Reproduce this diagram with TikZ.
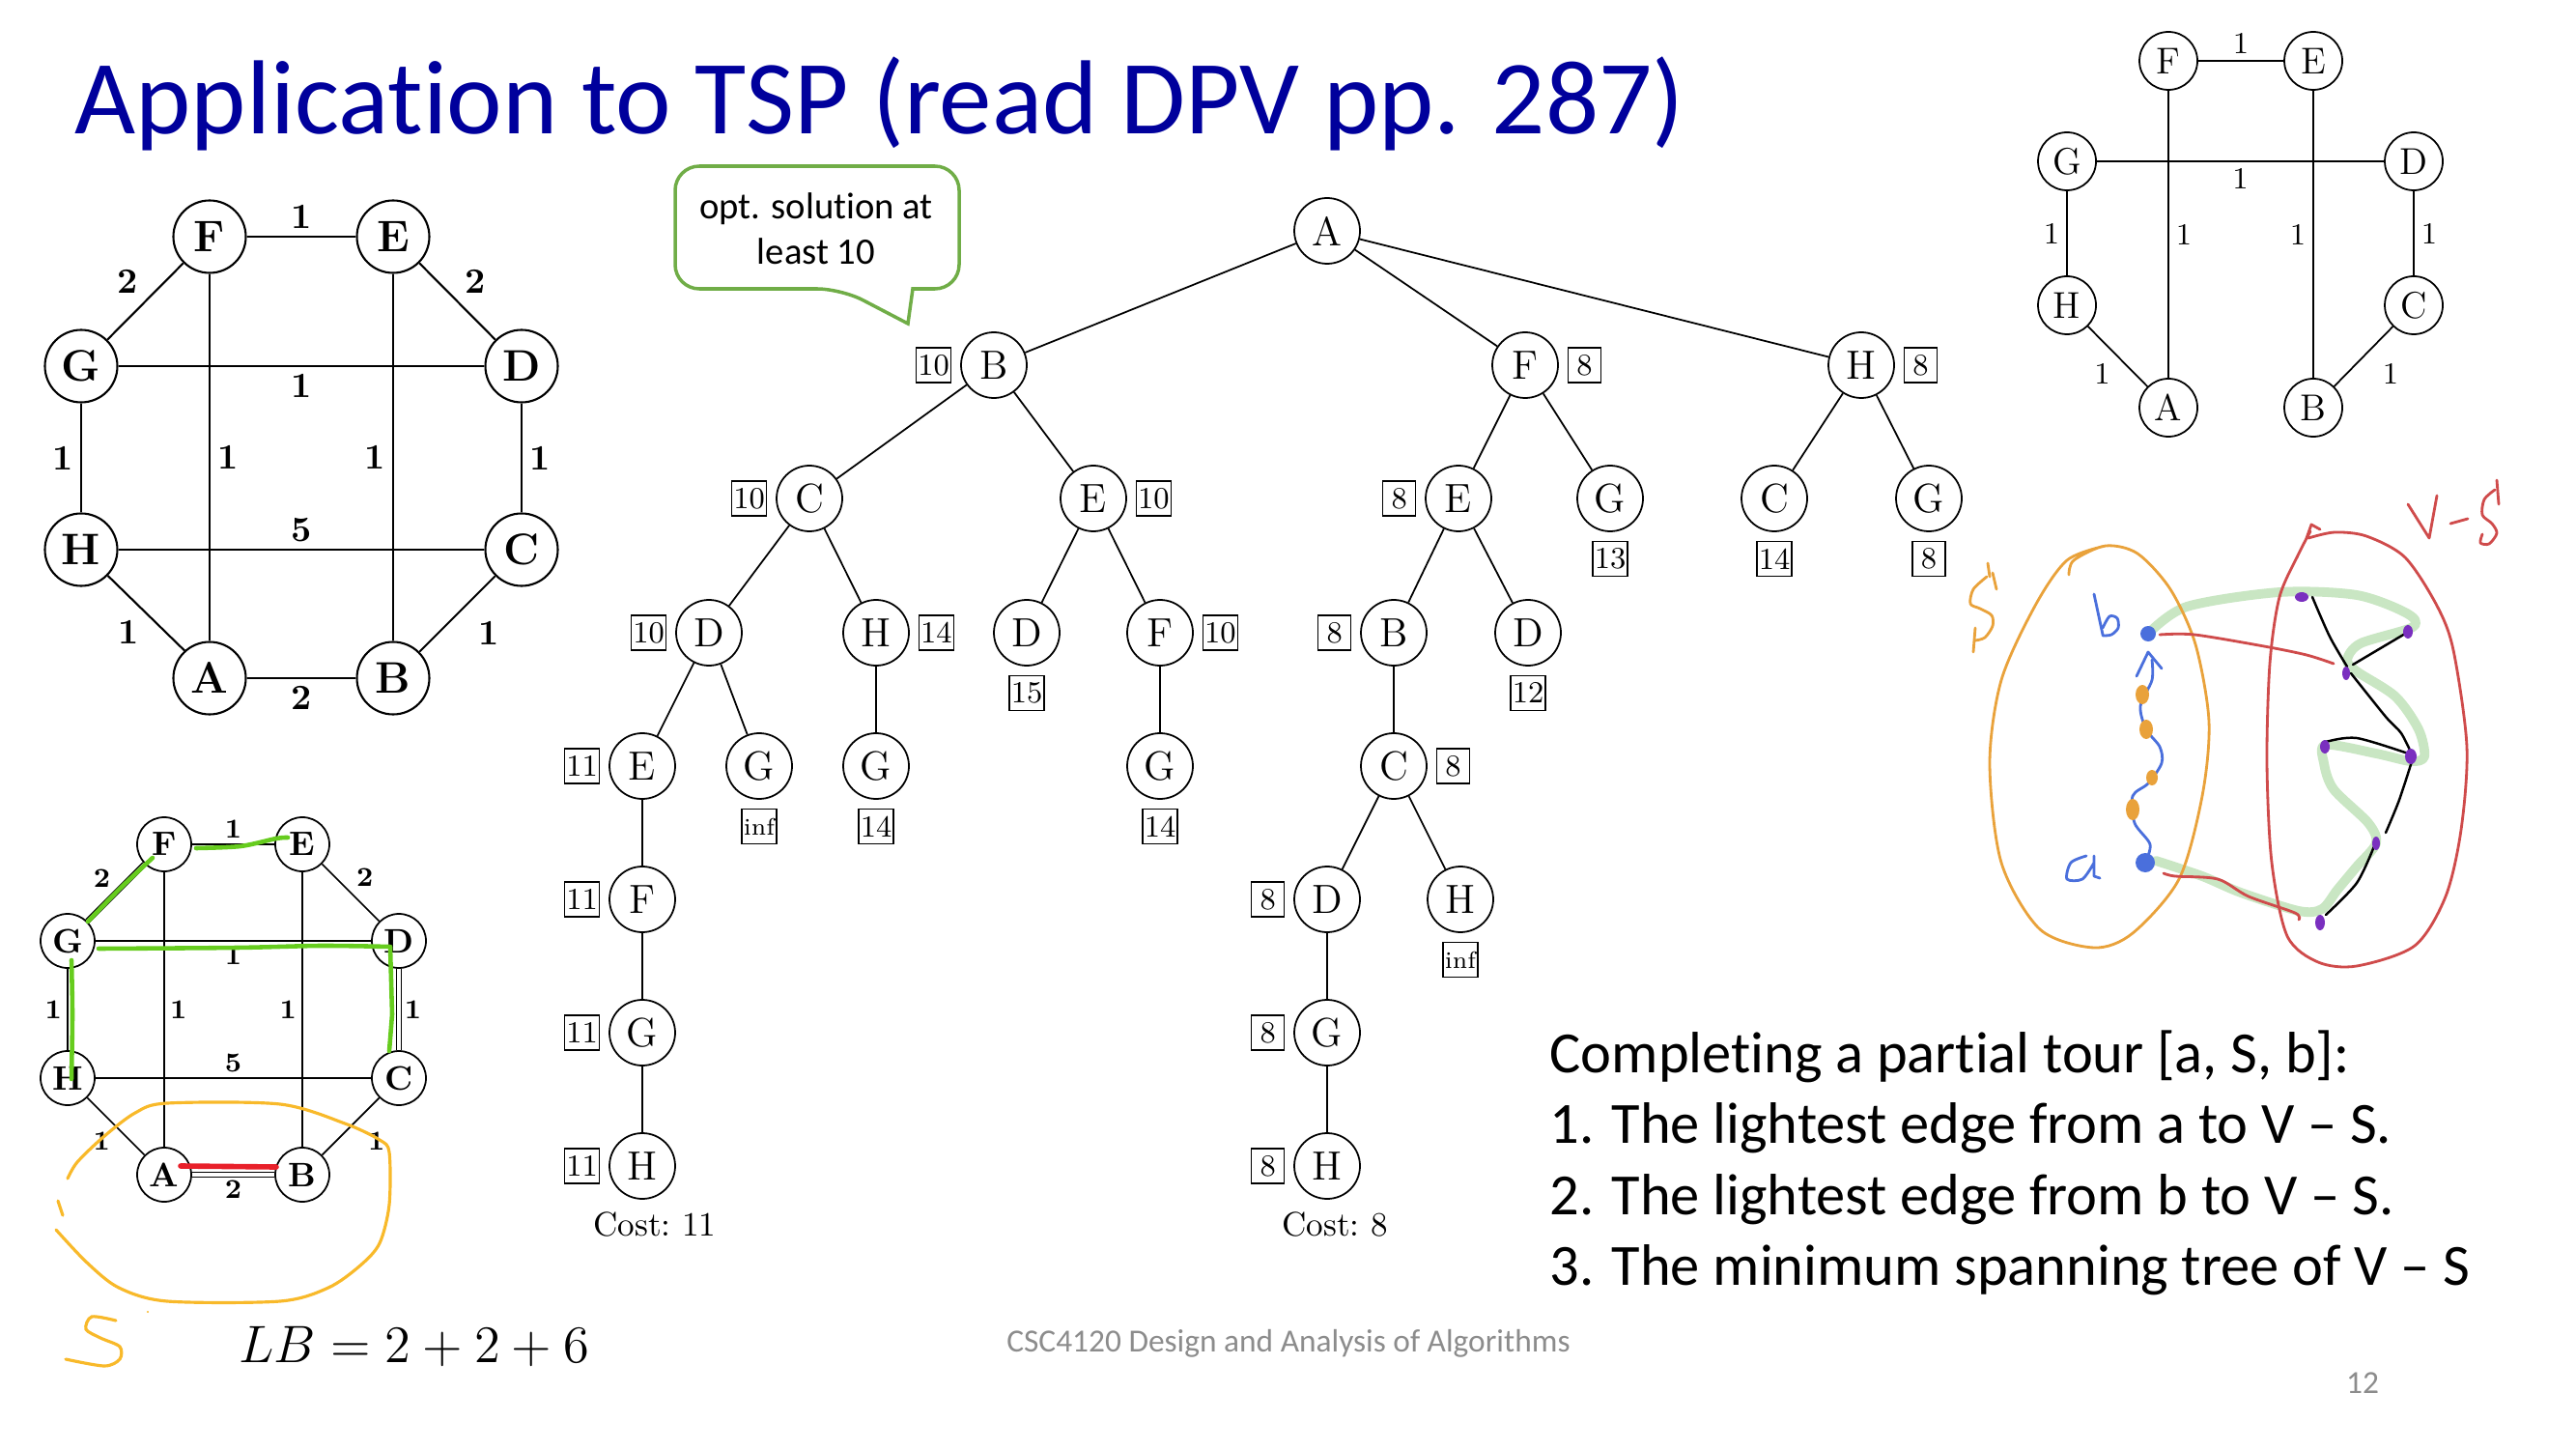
\RequirePackage{fix-cm}
\documentclass[tikz,border=0pt]{standalone}
\usepackage{fontspec}
\newfontfamily\calibri[Ligatures=NoCommon]{Carlito}
\usetikzlibrary{positioning}

\begin{document}
\begin{tikzpicture}[
  tlnode/.style={circle, draw, line width=0.6pt, minimum size=0.75cm, inner sep=0pt, font=\fontsize{13}{15}\selectfont\bfseries},
  tllab/.style={font=\fontsize{10.5}{12}\selectfont\bfseries, inner sep=2pt},
  blnode/.style={circle, draw, line width=0.5pt, minimum size=0.56cm, inner sep=0pt, font=\fontsize{10}{12}\selectfont\bfseries},
  bllab/.style={font=\fontsize{8}{10}\selectfont\bfseries, inner sep=1.5pt},
  trnode/.style={circle, draw, line width=0.5pt, minimum size=0.60cm, inner sep=0pt, font=\fontsize{11}{13}\selectfont},
  trlab/.style={font=\fontsize{9}{11}\selectfont, inner sep=2pt},
  tnode/.style={circle, draw, line width=0.5pt, minimum size=0.68cm, inner sep=0pt, font=\fontsize{12}{14}\selectfont},
  bnd/.style={draw, line width=0.4pt, minimum width=0.34cm, minimum height=0.36cm, inner sep=0.5pt, font=\fontsize{9}{10}\selectfont},
  tedge/.style={line width=0.5pt},
  sketch/.style={line width=0.8pt, line cap=round, line join=round},
  slide/.style={font=\calibri\fontsize{17.2}{20.8}\selectfont, inner sep=0pt, anchor=base west},
]
\definecolor{titleblue}{HTML}{00009C}
\definecolor{bubblegreen}{HTML}{70AD47}
\definecolor{tourgreen}{HTML}{66CC1E}
\definecolor{tourred}{HTML}{E8202A}
\definecolor{setyellow}{HTML}{F8B92A}
\definecolor{penorange}{HTML}{E9A23B}
\definecolor{penred}{HTML}{CF4B4B}
\definecolor{penblue}{HTML}{4A6FDC}
\definecolor{penpurple}{HTML}{7A2FBF}
\definecolor{pengreen}{HTML}{C9E6C3}
\definecolor{footgray}{HTML}{8C8C8C}
\useasboundingbox (0,0) rectangle (26.67,15);
%Title:
\node[font=\calibri\fontsize{31}{37}\selectfont, text=titleblue, inner sep=0pt, anchor=base west] (title) at (0.77,13.61) {Application to TSP (read DPV pp. 287)};

%Graph, top left:
\node[tlnode] (tlF) at (2.17,12.55) {F};
\node[tlnode] (tlE) at (4.07,12.55) {E};
\node[tlnode] (tlG) at (0.84,11.21) {G};
\node[tlnode] (tlD) at (5.40,11.21) {D};
\node[tlnode] (tlH) at (0.84,9.31) {H};
\node[tlnode] (tlC) at (5.40,9.31) {C};
\node[tlnode] (tlA) at (2.17,7.98) {A};
\node[tlnode] (tlB) at (4.07,7.98) {B};
\draw[line width=0.6pt] (tlF) -- node[tllab, above]{1} (tlE);
\draw[line width=0.6pt] (tlF) -- node[tllab, above left]{2} (tlG);
\draw[line width=0.6pt] (tlE) -- node[tllab, above right]{2} (tlD);
\draw[line width=0.6pt] (tlG) -- node[tllab, below]{1} (tlD);
\draw[line width=0.6pt] (tlG) -- node[tllab, left]{1} (tlH);
\draw[line width=0.6pt] (tlF) -- node[tllab, right]{1} (tlA);
\draw[line width=0.6pt] (tlE) -- node[tllab, left]{1} (tlB);
\draw[line width=0.6pt] (tlD) -- node[tllab, right]{1} (tlC);
\draw[line width=0.6pt] (tlH) -- node[tllab, above]{5} (tlC);
\draw[line width=0.6pt] (tlH) -- node[tllab, below left]{1} (tlA);
\draw[line width=0.6pt] (tlC) -- node[tllab, below right, xshift=0.14cm]{1} (tlB);
\draw[line width=0.6pt] (tlA) -- node[tllab, below]{2} (tlB);

%Graph, bottom left:
\node[blnode] (blF) at (1.70,6.26) {F};
\node[blnode] (blE) at (3.13,6.26) {E};
\node[blnode] (blG) at (0.70,5.26) {G};
\node[blnode] (blD) at (4.13,5.26) {D};
\node[blnode] (blH) at (0.70,3.84) {H};
\node[blnode] (blC) at (4.13,3.84) {C};
\node[blnode] (blA) at (1.70,2.84) {A};
\node[blnode] (blB) at (3.13,2.84) {B};
\draw[line width=0.5pt] (blF) -- node[bllab, above]{1} (blE);
\draw[line width=0.4pt, double, double distance=0.9pt] (blF) -- node[bllab, above left]{2} (blG);
\draw[line width=0.5pt] (blE) -- node[bllab, above right]{2} (blD);
\draw[line width=0.5pt] (blG) -- node[bllab, below]{1} (blD);
\draw[line width=0.5pt] (blG) -- node[bllab, left]{1} (blH);
\draw[line width=0.5pt] (blF) -- node[bllab, right]{1} (blA);
\draw[line width=0.5pt] (blE) -- node[bllab, left]{1} (blB);
\draw[line width=0.4pt, double, double distance=0.9pt] (blD) -- node[bllab, right]{1} (blC);
\draw[line width=0.5pt] (blH) -- node[bllab, above]{5} (blC);
\draw[line width=0.5pt] (blH) -- node[bllab, below left]{1} (blA);
\draw[line width=0.5pt] (blC) -- node[bllab, below right, xshift=0.12cm]{1} (blB);
\draw[line width=0.4pt, double, double distance=0.9pt] (blA) -- node[bllab, below]{2} (blB);
%Tour so far:
\draw[tourgreen, line width=1.3pt, line cap=round] plot[smooth] coordinates {(2.03,6.22) (2.49,6.24) (2.86,6.32) (2.98,6.33)};
\draw[tourgreen, line width=1.3pt, line cap=round] plot[smooth] coordinates {(1.58,6.12) (1.24,5.80) (0.91,5.46)};
\draw[tourgreen, line width=1.3pt, line cap=round, line join=round] plot[smooth] coordinates {(1.02,5.18) (2.45,5.19) (3.32,5.21) (4.04,5.20)} -- plot[smooth] coordinates {(4.06,4.50) (4.03,4.12)};
\draw[tourgreen, line width=1.3pt, line cap=round] plot[smooth] coordinates {(0.74,5.06) (0.75,4.50) (0.74,3.83)};
\draw[tourred, line width=1.6pt, line cap=round] (1.87,2.93) -- (2.86,2.92);
%Set S:
\draw[setyellow, line width=0.9pt, line cap=round] (0.60,2.57) -- (0.65,2.42);
\draw[setyellow, line width=0.9pt, line cap=round] plot[smooth] coordinates {(0.70,2.80) (0.80,2.97) (1.07,3.23) (1.40,3.48) (1.73,3.58) (2.90,3.57) (3.57,3.37) (3.93,3.20) (4.03,3.07) (4.03,2.53) (3.93,2.13) (3.73,1.90) (3.40,1.67) (2.90,1.53) (1.73,1.53) (1.23,1.67) (0.90,1.93) (0.58,2.27)};
\draw[setyellow, line width=0.9pt, line cap=round] plot[smooth] coordinates {(1.20,1.33) (0.95,1.37) (0.89,1.24) (1.04,1.15) (1.24,1.06) (1.24,0.93) (1.08,0.86) (0.68,0.93)};
\fill[setyellow] (1.53,1.42) circle (0.012);
\node[font=\fontsize{15.5}{18}\selectfont, inner sep=0pt] (lb) at (4.29,1.06) {$LB = 2 + 2 + 6$};

%Callout:
\draw[bubblegreen, line width=1pt] (8.71,12.01) -- (9.40,11.65) -- (9.45,12.01) [rounded corners=0.25cm] -- (9.93,12.01) -- (9.93,13.28) -- (6.99,13.28) -- (6.99,12.01) -- cycle;
\node[font=\calibri\fontsize{11}{13.4}\selectfont, align=center] (opt) at (8.45,12.63) {opt. solution at\\least 10};

%Tree:
\node[tnode] (nA) at (13.74,12.61) {A};
\node[tnode] (nAB) at (10.29,11.22) {B};
\node[tnode] (nAF) at (15.79,11.22) {F};
\node[tnode] (nAH) at (19.27,11.22) {H};
\node[tnode] (nABC) at (8.38,9.84) {C};
\node[tnode] (nABE) at (11.32,9.84) {E};
\node[tnode] (nAFE) at (15.10,9.84) {E};
\node[tnode] (nAFG) at (16.67,9.84) {G};
\node[tnode] (nAHC) at (18.37,9.84) {C};
\node[tnode] (nAHG) at (19.97,9.84) {G};
\node[tnode] (nABCD) at (7.34,8.45) {D};
\node[tnode] (nABCH) at (9.07,8.45) {H};
\node[tnode] (nABED) at (10.63,8.45) {D};
\node[tnode] (nABEF) at (12.01,8.45) {F};
\node[tnode] (nAFEB) at (14.43,8.45) {B};
\node[tnode] (nAFED) at (15.82,8.45) {D};
\node[tnode] (nABCDE) at (6.65,7.07) {E};
\node[tnode] (nABCDG) at (7.86,7.07) {G};
\node[tnode] (nABCHG) at (9.07,7.07) {G};
\node[tnode] (nABEFG) at (12.01,7.07) {G};
\node[tnode] (nAFEBC) at (14.43,7.07) {C};
\node[tnode] (nABCDEF) at (6.65,5.69) {F};
\node[tnode] (nAFEBCD) at (13.74,5.69) {D};
\node[tnode] (nAFEBCH) at (15.12,5.69) {H};
\node[tnode] (nABCDEFG) at (6.65,4.31) {G};
\node[tnode] (nAFEBCDG) at (13.74,4.31) {G};
\node[tnode] (nABCDEFGH) at (6.65,2.93) {H};
\node[tnode] (nAFEBCDGH) at (13.74,2.93) {H};
\draw[tedge] (nA) -- (nAB) (nA) -- (nAF) (nA) -- (nAH);
\draw[tedge] (nAB) -- (nABC) (nAB) -- (nABE);
\draw[tedge] (nAF) -- (nAFE) (nAF) -- (nAFG);
\draw[tedge] (nAH) -- (nAHC) (nAH) -- (nAHG);
\draw[tedge] (nABC) -- (nABCD) (nABC) -- (nABCH);
\draw[tedge] (nABE) -- (nABED) (nABE) -- (nABEF);
\draw[tedge] (nAFE) -- (nAFEB) (nAFE) -- (nAFED);
\draw[tedge] (nABCD) -- (nABCDE) (nABCD) -- (nABCDG);
\draw[tedge] (nABCH) -- (nABCHG);
\draw[tedge] (nABEF) -- (nABEFG);
\draw[tedge] (nAFEB) -- (nAFEBC);
\draw[tedge] (nABCDE) -- (nABCDEF) -- (nABCDEFG) -- (nABCDEFGH);
\draw[tedge] (nAFEBC) -- (nAFEBCD) (nAFEBC) -- (nAFEBCH);
\draw[tedge] (nAFEBCD) -- (nAFEBCDG) -- (nAFEBCDGH);
%Bounds:
\node[bnd, left=2.5pt of nAB] (bAB) {10};
\node[bnd, right=2.5pt of nAF] (bAF) {8};
\node[bnd, right=2.5pt of nAH] (bAH) {8};
\node[bnd, left=2.5pt of nABC] (bABC) {10};
\node[bnd, right=2.5pt of nABE] (bABE) {10};
\node[bnd, left=2.5pt of nAFE] (bAFE) {8};
\node[bnd, below=2.5pt of nAFG] (bAFG) {13};
\node[bnd, below=2.5pt of nAHC] (bAHC) {14};
\node[bnd, below=2.5pt of nAHG] (bAHG) {8};
\node[bnd, left=2.5pt of nABCD] (bABCD) {10};
\node[bnd, right=2.5pt of nABCH] (bABCH) {14};
\node[bnd, below=2.5pt of nABED] (bABED) {15};
\node[bnd, right=2.5pt of nABEF] (bABEF) {10};
\node[bnd, left=2.5pt of nAFEB] (bAFEB) {8};
\node[bnd, below=2.5pt of nAFED] (bAFED) {12};
\node[bnd, left=2.5pt of nABCDE] (bABCDE) {11};
\node[bnd, below=2.5pt of nABCDG, font=\fontsize{7}{8}\selectfont] (bABCDG) {inf};
\node[bnd, below=2.5pt of nABCHG] (bABCHG) {14};
\node[bnd, below=2.5pt of nABEFG] (bABEFG) {14};
\node[bnd, right=2.5pt of nAFEBC] (bAFEBC) {8};
\node[bnd, left=2.5pt of nABCDEF] (bABCDEF) {11};
\node[bnd, left=2.5pt of nAFEBCD] (bAFEBCD) {8};
\node[bnd, below=2.5pt of nAFEBCH, font=\fontsize{7}{8}\selectfont] (bAFEBCH) {inf};
\node[bnd, left=2.5pt of nABCDEFG] (bABCDEFG) {11};
\node[bnd, left=2.5pt of nAFEBCDG] (bAFEBCDG) {8};
\node[bnd, left=2.5pt of nABCDEFGH] (bABCDEFGH) {11};
\node[bnd, left=2.5pt of nAFEBCDGH] (bAFEBCDGH) {8};
\node[font=\fontsize{10}{12}\selectfont] (costA) at (6.78,2.33) {Cost:\ 11};
\node[font=\fontsize{10}{12}\selectfont] (costB) at (13.82,2.33) {Cost:\ 8};

%Graph, top right:
\node[trnode] (trF) at (22.45,14.37) {F};
\node[trnode] (trE) at (23.95,14.37) {E};
\node[trnode] (trG) at (21.40,13.33) {G};
\node[trnode] (trD) at (24.99,13.33) {D};
\node[trnode] (trH) at (21.40,11.84) {H};
\node[trnode] (trC) at (24.99,11.84) {C};
\node[trnode] (trA) at (22.45,10.78) {A};
\node[trnode] (trB) at (23.95,10.78) {B};
\draw[line width=0.5pt] (trF) -- node[trlab, above]{1} (trE);
\draw[line width=0.5pt] (trG) -- node[trlab, below]{1} (trD);
\draw[line width=0.5pt] (trG) -- node[trlab, left]{1} (trH);
\draw[line width=0.5pt] (trF) -- node[trlab, right]{1} (trA);
\draw[line width=0.5pt] (trE) -- node[trlab, left]{1} (trB);
\draw[line width=0.5pt] (trD) -- node[trlab, right]{1} (trC);
\draw[line width=0.5pt] (trH) -- node[trlab, below left]{1} (trA);
\draw[line width=0.5pt] (trC) -- node[trlab, below right, xshift=0.12cm]{1} (trB);

%Sketch, S and V-S:
\draw[pengreen, line width=2.8pt, line cap=round, line join=round] plot[smooth] coordinates {(22.24,8.44) (22.64,8.72) (23.60,8.87) (24.40,8.84) (24.92,8.65) (24.98,8.51) (24.44,8.34) (24.30,8.17) (24.40,8.05) (24.80,7.79) (25.04,7.45) (25.10,7.17) (24.96,7.12) (24.60,7.20) (24.08,7.29) (24.06,7.10) (24.16,6.83) (24.52,6.48) (24.60,6.27) (24.40,6.03) (24.20,5.79) (24.04,5.59) (23.80,5.57) (23.20,5.76) (22.80,5.93) (22.32,6.09)};
\draw[penorange, sketch] plot[smooth] coordinates {(21.42,9.05) (21.47,9.20) (21.80,9.35) (22.13,9.27) (22.47,8.90) (22.73,8.33) (22.87,7.53) (22.80,6.76) (22.56,5.90) (22.08,5.34) (21.68,5.19) (21.12,5.38) (20.72,6.07) (20.60,7.10) (20.72,7.96) (21.07,8.73) (21.40,9.20) (21.80,9.35)};
\draw[penorange, sketch] plot[smooth] coordinates {(20.57,9.03) (20.43,8.90) (20.40,8.75) (20.50,8.70) (20.62,8.63) (20.63,8.52) (20.55,8.40) (20.45,8.37)};
\draw[penorange, sketch] (20.58,9.17) -- (20.60,9.03) (20.63,9.07) -- (20.67,8.90) (20.45,8.50) -- (20.43,8.25);
\draw[penred, sketch] plot[smooth] coordinates {(23.90,9.43) (24.17,9.49) (24.50,9.45) (24.90,9.23) (25.23,8.73) (25.40,8.27) (25.54,7.27) (25.48,6.41) (25.32,5.72) (25.00,5.21) (24.40,5.00) (24.00,5.04) (23.68,5.31) (23.52,6.07) (23.47,7.10) (23.50,8.13) (23.60,8.82) (23.80,9.27) (23.92,9.50)};
\draw[penred, sketch] (23.88,9.43) -- (23.93,9.57) -- (24.02,9.52);
\draw[penred, sketch] (24.93,9.78) -- (25.15,9.43) -- (25.23,9.87) (25.37,9.58) -- (25.55,9.63);
\draw[penred, sketch] plot[smooth] coordinates {(25.83,9.93) (25.72,9.83) (25.70,9.67) (25.80,9.58) (25.85,9.48) (25.77,9.37) (25.68,9.38) (25.70,9.47)};
\draw[penred, sketch] (25.85,10.03) -- (25.87,9.78);
%a and b:
\draw[penblue, sketch] (21.68,8.85) -- (21.77,8.43) plot[smooth] coordinates {(21.77,8.50) (21.84,8.62) (21.92,8.60) (21.93,8.50) (21.86,8.43) (21.77,8.42)};
\draw[penblue, sketch] plot[smooth] coordinates {(21.60,6.14) (21.44,6.07) (21.40,5.90) (21.56,5.90) (21.68,6.07)} (21.68,6.14) -- (21.68,5.93) -- (21.74,5.91);
\draw[penblue, sketch] plot[smooth] coordinates {(22.21,6.07) (22.26,6.26) (22.10,6.48) (22.08,6.76) (22.24,6.89) (22.38,7.10) (22.36,7.27) (22.22,7.45) (22.16,7.69) (22.28,7.96) (22.28,8.17)};
\draw[penblue, sketch] (22.12,8.00) -- (22.24,8.25) -- (22.38,8.08);
\fill[penblue] (22.24,8.44) circle (0.08);
\fill[penblue] (22.21,6.07) circle (0.1);
\fill[penorange] (22.18,7.81) ellipse (0.07 and 0.1);
\fill[penorange] (22.22,7.45) ellipse (0.07 and 0.1);
\fill[penorange] (22.28,6.95) ellipse (0.06 and 0.08);
\fill[penorange] (22.08,6.62) ellipse (0.07 and 0.11);
%Edges out of S:
\draw[penred, sketch] plot[smooth] coordinates {(22.36,8.43) (22.72,8.43) (23.44,8.31) (23.88,8.22) (24.16,8.13)};
\draw[penred, sketch] plot[smooth] coordinates {(22.40,5.96) (22.52,5.93) (22.96,5.90) (23.28,5.72) (23.76,5.55) (23.80,5.48)};
%Spanning tree of V-S:
\draw[black, sketch, line width=0.7pt] plot[smooth] coordinates {(24.30,8.10) (24.12,8.41) (23.94,8.82)};
\draw[black, sketch, line width=0.7pt] (24.90,8.44) -- (24.36,8.12);
\draw[black, sketch, line width=0.7pt] plot[smooth] coordinates {(24.34,8.03) (24.70,7.58) (24.86,7.41) (24.98,7.17)};
\draw[black, sketch, line width=0.7pt] plot[smooth] coordinates {(24.08,7.32) (24.40,7.36) (24.96,7.19)};
\draw[black, sketch, line width=0.7pt] plot[smooth] coordinates {(24.98,7.15) (24.84,6.72) (24.70,6.38)};
\draw[black, sketch, line width=0.7pt] plot[smooth] coordinates {(24.58,6.24) (24.40,5.86) (24.08,5.53)};
\fill[penpurple] (23.83,8.82) ellipse (0.07 and 0.05);
\fill[penpurple] (24.93,8.46) ellipse (0.05 and 0.07);
\fill[penpurple] (24.29,8.03) ellipse (0.04 and 0.07);
\fill[penpurple] (24.07,7.27) ellipse (0.05 and 0.07);
\fill[penpurple] (24.96,7.17) ellipse (0.06 and 0.08);
\fill[penpurple] (24.60,6.27) ellipse (0.04 and 0.07);
\fill[penpurple] (24.02,5.45) ellipse (0.05 and 0.08);

%Text:
\node[slide] (l1) at (16.04,3.90) {Completing a partial tour [a, S, b]:};
\node[slide] (l2) at (16.04,3.17) {1. The lightest edge from a to V – S.};
\node[slide] (l3) at (16.04,2.43) {2. The lightest edge from b to V – S.};
\node[slide] (l4) at (16.04,1.70) {3. The minimum spanning tree of V – S};
%Footer:
\node[font=\calibri\fontsize{9.5}{11}\selectfont, text=footgray] (foot) at (13.34,1.09) {CSC4120 Design and Analysis of Algorithms};
\node[font=\calibri\fontsize{9.5}{11}\selectfont, text=footgray] (pnum) at (24.46,0.68) {12};
\end{tikzpicture}
\end{document}
